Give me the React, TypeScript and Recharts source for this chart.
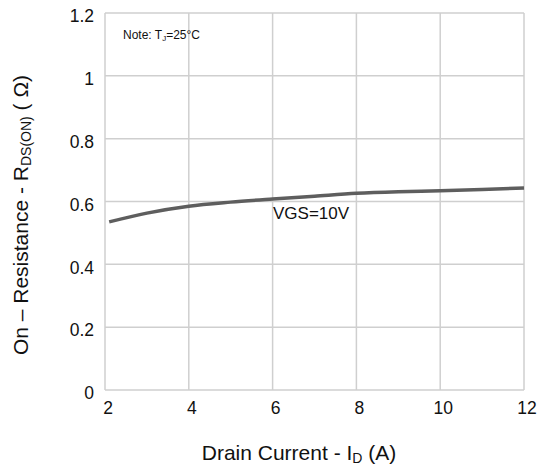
import React from 'react'
import { LineChart, Line, XAxis, YAxis, CartesianGrid } from 'recharts'

// drain current (A) and on-resistance (ohm)
const currents = [2.1, 3, 4, 5, 6, 7, 8, 9, 10, 11, 12]
const resistance = [0.535, 0.563, 0.585, 0.598, 0.608, 0.617, 0.626, 0.631, 0.634, 0.638, 0.643]
const xTicks = [2, 4, 6, 8, 10, 12]
const yTicks = [0, 0.2, 0.4, 0.6, 0.8, 1, 1.2]

const data = currents.map((id, i) => ({ id, r: resistance[i] }))

const FONT = '"Liberation Sans", Arial, sans-serif'
const TEXT = '#111'

const XTitle = () => (
  <text x={299} y={460} textAnchor="middle" fontFamily={FONT} fontSize={21} fill={TEXT}>
    Drain Current - I
    <tspan fontSize={14} dy={3}>D</tspan>
    <tspan dy={-3}> (A)</tspan>
  </text>
)

const YTitle = () => (
  <text
    x={0}
    y={0}
    transform="translate(28, 215) rotate(-90)"
    textAnchor="middle"
    fontFamily={FONT}
    fontSize={21}
    fill={TEXT}
  >
    On – Resistance - R
    <tspan fontSize={14} dy={3}>DS(ON)</tspan>
    <tspan dy={-3}> ( Ω)</tspan>
  </text>
)

export default function App() {
  return (
    <div style={{ position: 'absolute', left: 0, top: 0, width: 537, height: 470, background: '#fff' }}>
      <LineChart width={537} height={470} data={data} margin={{ top: 13, right: 13, left: 0, bottom: 0 }}>
        <CartesianGrid stroke="#cfcfcf" strokeWidth={1.5} horizontalValues={yTicks} verticalValues={xTicks} />
        <XAxis
          dataKey="id"
          type="number"
          domain={[2, 12]}
          ticks={xTicks}
          axisLine={false}
          tickLine={false}
          height={80}
          tickMargin={6}
          tick={{ fontSize: 17.5, fill: TEXT, fontFamily: FONT, dx: 3 }}
        />
        <YAxis
          type="number"
          domain={[0, 1.2]}
          ticks={yTicks}
          axisLine={false}
          tickLine={false}
          width={105}
          tickMargin={5}
          tick={{ fontSize: 17.5, fill: TEXT, fontFamily: FONT, dy: 3 }}
        />
        <Line
          type="monotone"
          dataKey="r"
          stroke="#5e5e5e"
          strokeWidth={3.5}
          dot={false}
          isAnimationActive={false}
        />
        <text x={123} y={39} fontFamily={FONT} fontSize={12} fill={TEXT}>
          Note: T
          <tspan fontSize={8} dy={2}>J</tspan>
          <tspan dy={-2}>=25°C</tspan>
        </text>
        <text x={273} y={219} fontFamily={FONT} fontSize={17} fill={TEXT}>
          VGS=10V
        </text>
        <XTitle />
        <YTitle />
      </LineChart>
    </div>
  )
}
